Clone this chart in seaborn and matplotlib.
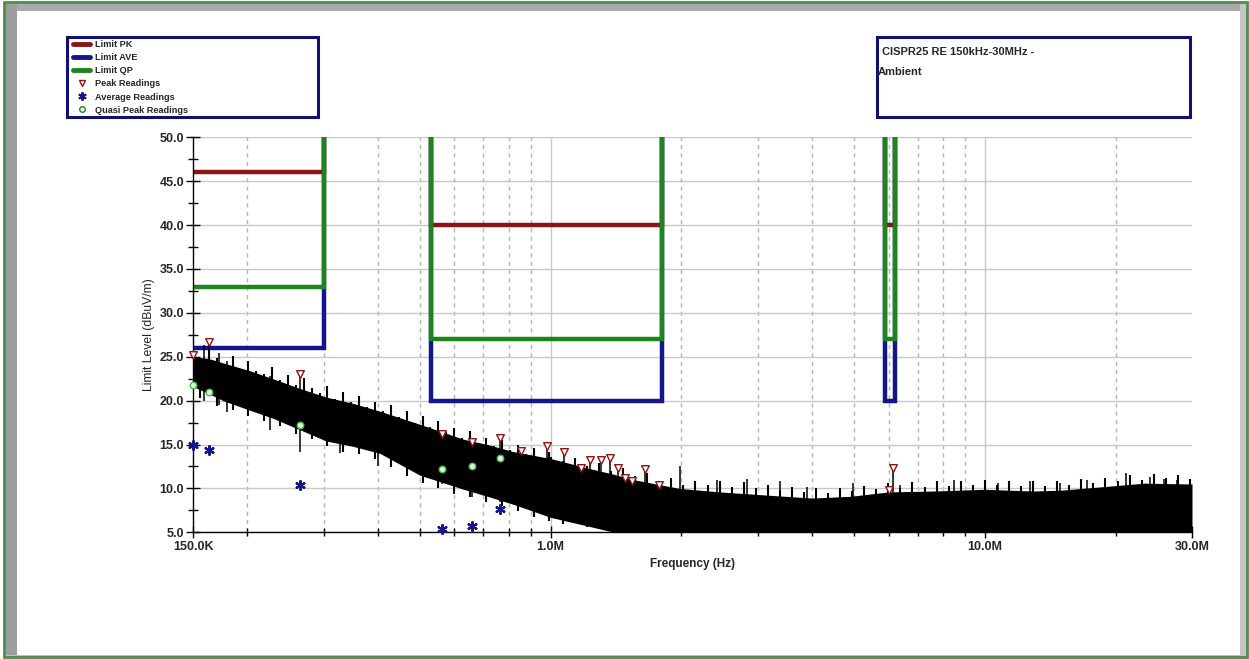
import pandas as pd
import seaborn as sns
import matplotlib.pyplot as plt
from matplotlib.lines import Line2D
from matplotlib.patches import Rectangle
from matplotlib.ticker import FixedLocator, FixedFormatter, MultipleLocator, FormatStrFormatter

# ---------------------------------------------------------------- limit bands
band_start = [150e3, 530e3, 5.9e6]
band_stop = [300e3, 1.8e6, 6.2e6]
limit_pk = [46.0, 40.0, 40.0]
limit_ave = [26.0, 20.0, 20.0]
limit_qp = [33.0, 27.0, 27.0]

# ---------------------------------------------------------------- readings
peak_freq = [150e3, 163e3, 265e3, 562e3, 659e3, 765e3, 855e3, 981e3, 1.074e6, 1.175e6,
             1.233e6, 1.307e6, 1.371e6, 1.43e6, 1.484e6, 1.54e6, 1.65e6, 1.778e6, 6.02e6, 6.15e6]
peak_level = [25.2, 26.7, 23.0, 16.2, 15.3, 15.7, 14.3, 14.8, 14.1, 12.3,
              13.2, 13.2, 13.5, 12.3, 11.2, 10.8, 12.2, 10.4, 9.8, 12.3]

avg_freq = [150e3, 163e3, 265e3, 562e3, 659e3, 765e3]
avg_level = [15.0, 14.4, 10.4, 5.4, 5.7, 7.6]

qp_freq = [150e3, 163e3, 265e3, 562e3, 659e3, 765e3]
qp_level = [21.8, 21.0, 17.2, 12.2, 12.5, 13.5]

# ---------------------------------------------------------------- ambient scan
# dense core of the trace
core_freq = [150e3, 163e3, 176e3, 203e3, 229e3, 264e3, 304e3, 350e3, 404e3, 500e3,
             630e3, 715e3, 819e3, 1.0e6, 1.22e6, 1.4e6, 1.55e6, 1.98e6, 2.45e6, 3.47e6,
             4.0e6, 4.9e6, 6.0e6, 7.6e6, 10e6, 12.9e6, 15e6, 19.8e6, 23.3e6, 30e6]
core_high = [25.0, 24.8, 24.3, 23.4, 22.5, 21.4, 20.4, 19.7, 18.8, 17.3,
             15.6, 15.0, 14.2, 13.4, 12.3, 11.6, 11.0, 10.0, 9.6, 9.1,
             8.9, 9.1, 9.6, 9.7, 9.9, 9.7, 9.8, 10.3, 10.6, 10.5]
core_low = [21.6, 20.8, 20.0, 18.9, 18.0, 16.7, 15.4, 14.8, 14.0, 11.5,
            9.9, 9.1, 8.2, 6.7, 5.7, 5.0, 5.0, 5.0, 5.0, 5.0,
            5.0, 5.0, 5.0, 5.0, 5.0, 5.0, 5.0, 5.0, 5.0, 5.0]

# max / min of the sweep in each display bin (kHz)
bin_khz = [150, 156, 163, 170, 177, 185, 193, 201, 210, 219, 228, 238, 248, 259, 270, 282,
           294, 306, 319, 333, 347, 362, 378, 394, 411, 428, 447, 466, 486, 507, 528, 551,
           575, 599, 625, 652, 680, 709, 740, 771, 805, 839, 875, 913, 952, 993,
           1000, 1066, 1136, 1211, 1291, 1377, 1468, 1565, 1668, 1778, 1896, 2021, 2154,
           2297, 2448, 2610, 2782, 2966, 3162, 3371, 3594, 3831, 4084, 4354, 4641, 4948,
           5275, 5623, 5994, 6390, 6812, 7262, 7742, 8253, 8798, 9379, 10000, 10660, 11360,
           12110, 12910, 13770, 14680, 15650, 16680, 17780, 18960, 20210, 21540, 22970,
           24480, 26100, 27820, 29660]
bin_max = [25.0, 24.6, 25.8, 24.9, 24.1, 25.1, 23.6, 24.5, 23.4, 23.0, 23.8, 22.4, 22.9, 21.8,
           22.6, 21.4, 20.9, 21.7, 20.2, 21.0, 19.8, 20.5, 19.3, 19.9, 18.8, 19.5, 18.1, 18.8,
           17.5, 18.2, 17.0, 17.7, 16.4, 16.9, 15.8, 16.5, 15.2, 15.8, 14.8, 15.5, 14.4, 14.9,
           13.9, 14.6, 13.5, 14.1,
           13.6, 13.1, 13.5, 12.6, 12.9, 12.0, 12.3, 11.4, 11.7, 10.9, 11.2, 10.4, 10.8,
           10.4, 10.9, 10.2, 10.7, 10.0, 10.4, 9.8, 10.2, 9.6, 10.0, 9.5, 10.1, 9.7,
           10.3, 9.9, 10.6, 10.1, 10.7, 10.2, 10.8, 10.3, 10.9, 10.4, 11.0, 10.4, 10.9,
           10.3, 10.8, 10.3, 10.9, 10.4, 11.1, 10.6, 11.2, 10.8, 11.5, 11.0,
           11.6, 11.2, 11.5, 11.1]
bin_min = [21.4, 20.3, 20.9, 19.4, 20.2, 18.9, 19.7, 18.3, 19.2, 17.7, 18.5, 17.1, 18.0, 16.2,
           17.0, 15.6, 16.5, 14.8, 15.7, 14.2, 15.3, 13.9, 14.9, 13.3, 14.1, 12.4, 13.0, 11.4,
           12.1, 10.6, 11.3, 10.0, 10.8, 9.4, 10.1, 9.0, 9.7, 8.4, 9.1, 8.0, 8.6, 7.4,
           8.1, 6.8, 7.5, 6.3,
           6.8, 6.0, 6.3, 5.6, 5.8, 5.2, 5.0, 5.0, 5.0, 5.0, 5.0, 5.0, 5.0,
           5.0, 5.0, 5.0, 5.0, 5.0, 5.0, 5.0, 5.0, 5.0, 5.0, 5.0, 5.0, 5.0,
           5.0, 5.0, 5.0, 5.0, 5.0, 5.0, 5.0, 5.0, 5.0, 5.0, 5.0, 5.0, 5.0,
           5.0, 5.0, 5.0, 5.0, 5.0, 5.0, 5.0, 5.0, 5.0, 5.0, 5.0,
           5.0, 5.0, 5.0, 5.0]

# isolated spikes standing out of the trace
spike_freq = [159e3, 163e3, 172e3, 180e3, 226e3, 265e3, 327e3, 400e3, 562e3, 659e3,
              765e3, 855e3, 981e3, 1.074e6, 1.175e6, 1.233e6, 1.307e6, 1.371e6, 1.43e6, 1.484e6,
              1.54e6, 1.65e6, 1.778e6, 1.98e6, 2.41e6, 2.83e6, 3.37e6, 3.89e6, 4.98e6, 6.15e6,
              6.38e6, 8.47e6, 10.7e6, 12.7e6, 14.9e6, 17.2e6, 21.1e6, 24.0e6, 25.8e6, 27.7e6]
spike_high = [26.3, 26.6, 25.4, 24.5, 22.8, 23.0, 19.7, 17.8, 16.0, 15.1,
              15.5, 14.2, 14.6, 13.9, 12.1, 13.0, 13.0, 13.3, 12.1, 11.0,
              10.6, 12.0, 10.2, 12.5, 11.0, 11.1, 10.9, 10.2, 10.6, 12.1,
              10.4, 11.0, 10.6, 10.8, 10.6, 11.0, 11.7, 11.3, 11.1, 11.0]
spike_low = [20.0, 20.5, 19.5, 18.7, 16.6, 14.2, 14.0, 12.5, 10.5, 9.0,
             8.5, 8.0, 7.0, 7.0, 6.0, 6.0, 6.0, 6.0, 6.0, 6.0,
             6.0, 6.0, 6.0, 5.0, 5.0, 5.0, 5.0, 5.0, 5.0, 5.0,
             5.0, 5.0, 5.0, 5.0, 5.0, 5.0, 5.0, 5.0, 5.0, 5.0]

# ---------------------------------------------------------------- axis text
x_major = [150e3, 1e6, 10e6, 30e6]
x_major_labels = ["150.0K", "1.0M", "10.0M", "30.0M"]
x_minor = [2e5, 3e5, 4e5, 5e5, 6e5, 7e5, 8e5, 9e5,
           2e6, 3e6, 4e6, 5e6, 6e6, 7e6, 8e6, 9e6, 2e7]
F_MIN, F_MAX = 150e3, 30e6
Y_MIN, Y_MAX = 5.0, 50.0

legend_labels = ["Limit PK", "Limit AVE", "Limit QP",
                 "Peak Readings", "Average Readings", "Quasi Peak Readings"]
title_lines = ["CISPR25 RE 150kHz-30MHz -", "Ambient"]

PK_RED = "#8c1414"
AVE_BLUE = "#14148c"
QP_GREEN = "#1e841e"
NAVY = "#10106e"

W, H = 1249, 659


def limit_frame(levels, top=60.0):
    """Step outline of each limit band; risers run off the top of the plot."""
    rows = []
    for i, (f0, f1, lvl) in enumerate(zip(band_start, band_stop, levels)):
        xs, ys = [f0, f0, f1, f1], [top, lvl, lvl, top]
        if f0 <= F_MIN:  # no riser on the left axis edge
            xs, ys = xs[1:], ys[1:]
        rows += [dict(freq=x, level=y, band=i) for x, y in zip(xs, ys)]
    return pd.DataFrame(rows)


def px_rect(x0, y0, x1, y1, **kw):
    return Rectangle((x0 / W, 1 - y1 / H), (x1 - x0) / W, (y1 - y0) / H,
                     transform=fig.transFigure, **kw)


sns.set_theme(style="white")
plt.rcParams["font.family"] = ["Liberation Sans", "DejaVu Sans"]

fig = plt.figure(figsize=(W / 100, H / 100), dpi=100)
fig.patch.set_facecolor("white")
ax = fig.add_axes([193 / W, 1 - 532.3 / H, 999 / W, 395 / H])
ax.set_xscale("log")

# limit lines
for levels, col in [(limit_pk, PK_RED), (limit_ave, AVE_BLUE), (limit_qp, QP_GREEN)]:
    sns.lineplot(data=limit_frame(levels), x="freq", y="level", units="band",
                 estimator=None, sort=False, color=col, lw=3.2, ax=ax,
                 solid_capstyle="butt", solid_joinstyle="miter", zorder=2)

# ambient scan
ax.fill_between(core_freq, core_low, core_high, color="black", lw=0, zorder=3)
ax.vlines([k * 1e3 for k in bin_khz], bin_min, bin_max, colors="black", lw=1.5, zorder=3)
ax.vlines(spike_freq, spike_low, spike_high, colors="black", lw=1.1, zorder=3)

# readings
sns.scatterplot(x=peak_freq, y=peak_level, marker="v", s=30, color="white",
                edgecolor=PK_RED, linewidth=1.0, ax=ax, zorder=5, clip_on=False)
sns.scatterplot(x=avg_freq, y=avg_level, marker=(6, 2, 0), s=40, color=AVE_BLUE,
                linewidth=1.6, ax=ax, zorder=5, clip_on=False)
sns.scatterplot(x=qp_freq, y=qp_level, marker="o", s=22, color="#d8ffd8",
                edgecolor="#4cb84c", linewidth=1.0, ax=ax, zorder=5, clip_on=False)

ax.set_xlim(F_MIN, F_MAX)
ax.set_ylim(Y_MIN, Y_MAX)

ax.xaxis.set_major_locator(FixedLocator(x_major))
ax.xaxis.set_major_formatter(FixedFormatter(x_major_labels))
ax.xaxis.set_minor_locator(FixedLocator(x_minor))
ax.xaxis.set_minor_formatter(FixedFormatter([""] * len(x_minor)))
ax.yaxis.set_major_locator(MultipleLocator(5))
ax.yaxis.set_minor_locator(MultipleLocator(2.5))
ax.yaxis.set_major_formatter(FormatStrFormatter("%.1f"))

ax.tick_params(axis="y", which="major", direction="inout", length=10, width=1,
               pad=1.5, labelsize=9, left=True, color="black")
ax.tick_params(axis="y", which="minor", direction="inout", length=7, width=1,
               left=True, color="black")
ax.tick_params(axis="x", which="major", direction="inout", length=8, width=1,
               pad=2, labelsize=9, bottom=True, color="black")
ax.tick_params(axis="x", which="minor", direction="inout", length=6, width=1,
               bottom=True, color="black")
for lbl in ax.get_xticklabels() + ax.get_yticklabels():
    lbl.set_fontweight("bold")

ax.set_axisbelow(True)
ax.yaxis.grid(True, which="major", color="#c8c8c8", lw=1)
ax.xaxis.grid(True, which="minor", color="#b4b4b4", lw=1, ls=(0, (3, 3)))
for f in [1e6, 10e6]:
    ax.axvline(f, color="#c8c8c8", lw=1, zorder=0.5)

for side in ["top", "right"]:
    ax.spines[side].set_visible(False)
for side in ["left", "bottom"]:
    ax.spines[side].set_color("black")
    ax.spines[side].set_linewidth(1)

ax.set_xlabel("Frequency (Hz)", fontsize=8.5, fontweight="bold")
ax.set_ylabel("Limit Level (dBuV/m)", fontsize=8.7, fontweight="medium")
ax.xaxis.set_label_coords(0.5, -0.066)
ax.yaxis.set_label_coords(-0.038, 0.5)

# legend box (top left)
handles = [
    Line2D([], [], color=PK_RED, lw=3.5, solid_capstyle="round"),
    Line2D([], [], color=AVE_BLUE, lw=3.5, solid_capstyle="round"),
    Line2D([], [], color=QP_GREEN, lw=3.5, solid_capstyle="round"),
    Line2D([], [], ls="none", marker="v", ms=4.5, mfc="white", mec=PK_RED, mew=1),
    Line2D([], [], ls="none", marker=(6, 2, 0), ms=6, color=AVE_BLUE, mew=1.4),
    Line2D([], [], ls="none", marker="o", ms=4, mfc="white", mec=QP_GREEN, mew=1),
]
ax.legend(handles, legend_labels, loc="upper left",
          bbox_to_anchor=(73 / W, 1 - 40 / H), bbox_transform=fig.transFigure,
          frameon=False, prop=dict(size=6.6, weight="bold"),
          handlelength=1.9, handletextpad=0.5, labelspacing=0.45,
          borderpad=0, borderaxespad=0)
fig.add_artist(px_rect(67, 37, 318, 117, fill=False, ec=NAVY, lw=2.2))

# title box (top right)
fig.add_artist(px_rect(877, 37, 1190, 117, fill=False, ec=NAVY, lw=2.2))
fig.text(882 / W, 1 - 52 / H, title_lines[0], fontsize=8, fontweight="bold", va="center")
fig.text(878 / W, 1 - 72 / H, title_lines[1], fontsize=8, fontweight="bold", va="center")

# scanned-page frame
fig.add_artist(px_rect(5, 3, 1247, 11, color="#a9a9a9", lw=0))
fig.add_artist(px_rect(5, 3, 17, 657, color="#9e9e9e", lw=0))
fig.add_artist(px_rect(1240, 3, 1247, 657, color="#c4c4c4", lw=0))
fig.add_artist(px_rect(5, 655, 1247, 657, color="#c8bcbc", lw=0))
fig.add_artist(px_rect(4, 2, 1247, 657, fill=False, ec="#4a8f4a", lw=2))

fig.savefig("out.png", dpi=100, facecolor="white")
